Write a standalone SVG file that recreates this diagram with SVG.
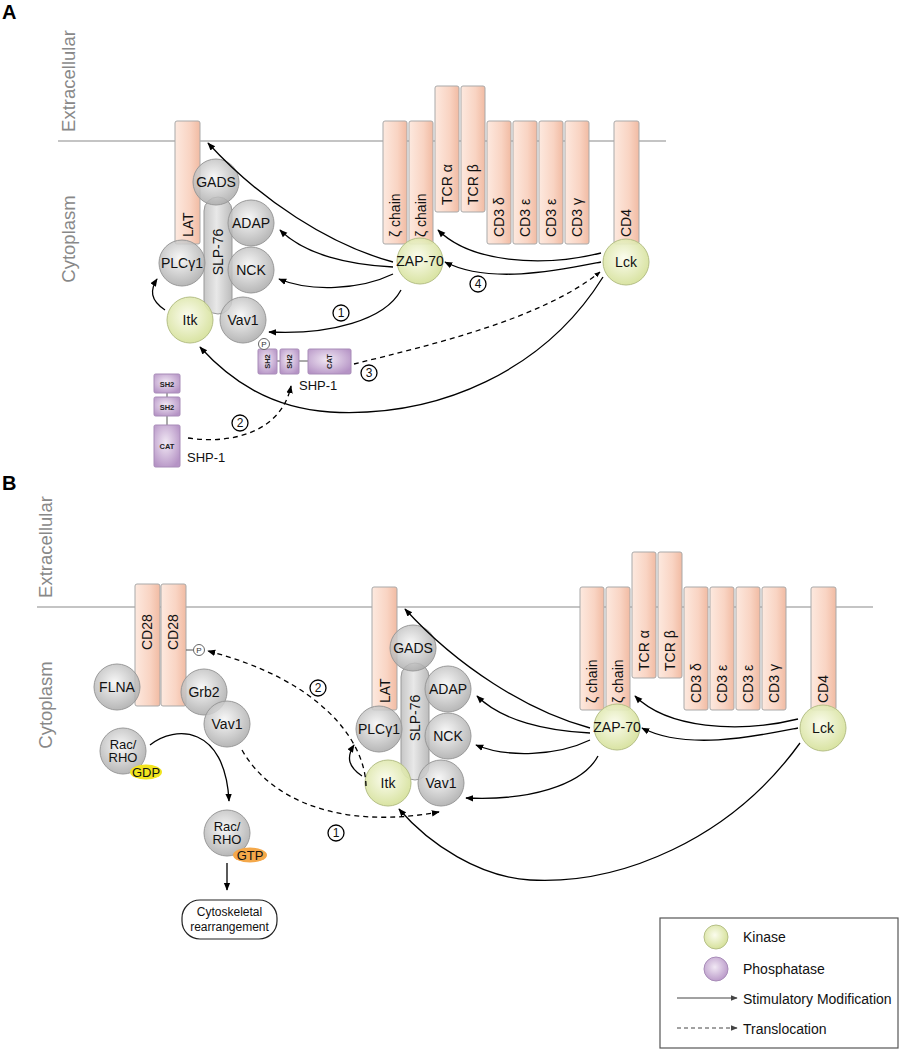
<svg xmlns="http://www.w3.org/2000/svg" width="900" height="1050" viewBox="0 0 900 1050">
<defs>
<linearGradient id="gSal" x1="0" y1="0" x2="1" y2="0">
<stop offset="0" stop-color="#fde9df"/><stop offset="0.6" stop-color="#f9d4c3"/><stop offset="1" stop-color="#f1bba3"/>
</linearGradient>
<radialGradient id="gGray" cx="0.45" cy="0.4" r="0.62">
<stop offset="0" stop-color="#f6f6f6"/><stop offset="1" stop-color="#a8a8a8"/>
</radialGradient>
<linearGradient id="gSlp" x1="0" y1="0" x2="1" y2="0">
<stop offset="0" stop-color="#bdbdbd"/><stop offset="0.45" stop-color="#e4e4e4"/><stop offset="1" stop-color="#b0b0b0"/>
</linearGradient>
<radialGradient id="gKin" cx="0.45" cy="0.42" r="0.62">
<stop offset="0" stop-color="#fbfced"/><stop offset="1" stop-color="#d3df95"/>
</radialGradient>
<radialGradient id="gPur" cx="0.45" cy="0.42" r="0.65">
<stop offset="0" stop-color="#f1e8f4"/><stop offset="1" stop-color="#b593c5"/>
</radialGradient>
<marker id="ah" viewBox="0 0 10 10" refX="9" refY="5" markerWidth="8" markerHeight="8" markerUnits="userSpaceOnUse" orient="auto">
<path d="M0,1 L10,5 L0,9 z" fill="#000"/>
</marker>
<marker id="ahs" viewBox="0 0 10 10" refX="9" refY="5" markerWidth="6" markerHeight="6" markerUnits="userSpaceOnUse" orient="auto">
<path d="M0,1 L10,5 L0,9 z" fill="#000"/>
</marker>
<marker id="ahg" viewBox="0 0 10 10" refX="9" refY="5" markerWidth="7" markerHeight="7" markerUnits="userSpaceOnUse" orient="auto">
<path d="M0,1 L10,5 L0,9 z" fill="#444"/>
</marker>
</defs>
<style>
text{font-family:"Liberation Sans",Arial,sans-serif;fill:#111}
.rec{fill:url(#gSal);stroke:#a9a9a9;stroke-width:1}
.gc{fill:url(#gGray);stroke:#999;stroke-width:1;fill-opacity:0.85}
.slp{fill:url(#gSlp);stroke:#999;stroke-width:1;fill-opacity:0.85}
.kc{fill:url(#gKin);stroke:#b5bf86;stroke-width:1;fill-opacity:0.92}
.pb{fill:url(#gPur);stroke:#a88cb8;stroke-width:1}
.mem{stroke:#8a8a8a;stroke-width:1.2}
.side{font-size:18.5px;fill:#888}
.lbl{font-size:14px;text-anchor:middle}
.lbl2{font-size:13px;text-anchor:middle}
.rt{font-size:14px;text-anchor:start}
.big{font-size:20px;font-weight:bold;fill:#000}
.sol{fill:none;stroke:#000;stroke-width:1.3;marker-end:url(#ah)}
.dsh{fill:none;stroke:#000;stroke-width:1.3;stroke-dasharray:5,4;marker-end:url(#ah)}
.num{fill:#fff;stroke:#000;stroke-width:1.3}
.nt{font-size:12px;text-anchor:middle}
.pc{fill:#fff;stroke:#555;stroke-width:0.9}
.pt{font-size:8px;text-anchor:middle;fill:#333}
.sh{font-size:7.5px;font-weight:bold;text-anchor:middle;fill:#222}
.leg{font-size:14px}
</style>

<!-- Panel labels and membranes -->
<g id="panelA-frame">
<text class="big" x="2" y="19">A</text>
<text class="side" text-anchor="middle" transform="translate(75,81) rotate(-90)">Extracellular</text>
<text class="side" text-anchor="middle" transform="translate(75,239) rotate(-90)">Cytoplasm</text>
<line class="mem" x1="58" y1="141" x2="666" y2="141"/>
</g>
<g id="panelB-frame">
<text class="big" x="2" y="490">B</text>
<text class="side" text-anchor="middle" transform="translate(52,547) rotate(-90)">Extracellular</text>
<text class="side" text-anchor="middle" transform="translate(52,705) rotate(-90)">Cytoplasm</text>
<line class="mem" x1="37" y1="607" x2="873" y2="607"/>
</g>

<!-- ===== Panel A nodes ===== -->
<g id="A-LAT"><rect class="rec" x="175" y="121" width="25" height="123" rx="2"/><text class="rt" transform="translate(193,237) rotate(-90)">LAT</text></g>
<g id="A-SLP76"><rect class="slp" x="204" y="197" width="28" height="117" rx="14"/><text class="lbl" transform="translate(223,252) rotate(-90)">SLP-76</text></g>
<g id="A-GADS"><circle class="gc" cx="216" cy="182" r="23"/><text class="lbl" x="216" y="187">GADS</text></g>
<g id="A-ADAP"><circle class="gc" cx="251" cy="223" r="23"/><text class="lbl" x="251" y="228">ADAP</text></g>
<g id="A-NCK"><circle class="gc" cx="251" cy="270" r="23"/><text class="lbl" x="251" y="275">NCK</text></g>
<g id="A-PLCg1"><circle class="gc" cx="182" cy="263" r="23"/><text class="lbl" x="182" y="268">PLCγ1</text></g>
<g id="A-Itk"><circle class="kc" cx="190" cy="320" r="23"/><text class="lbl" x="190" y="325">Itk</text></g>
<g id="A-Vav1"><circle class="gc" cx="243" cy="320" r="23"/><text class="lbl" x="243" y="325">Vav1</text></g>

<g id="A-zeta1"><rect class="rec" x="383" y="121" width="24" height="123" rx="2"/><text class="rt" transform="translate(400,237) rotate(-90)">ζ chain</text></g>
<g id="A-zeta2"><rect class="rec" x="409" y="121" width="24" height="123" rx="2"/><text class="rt" transform="translate(426,237) rotate(-90)">ζ chain</text></g>
<g id="A-TCRa"><rect class="rec" x="435" y="86" width="24" height="126" rx="2"/><text class="rt" transform="translate(452,205) rotate(-90)">TCR α</text></g>
<g id="A-TCRb"><rect class="rec" x="461" y="86" width="24" height="126" rx="2"/><text class="rt" transform="translate(478,205) rotate(-90)">TCR β</text></g>
<g id="A-CD3d"><rect class="rec" x="487" y="121" width="24" height="123" rx="2"/><text class="rt" transform="translate(504,237) rotate(-90)">CD3 δ</text></g>
<g id="A-CD3e1"><rect class="rec" x="513" y="121" width="24" height="123" rx="2"/><text class="rt" transform="translate(530,237) rotate(-90)">CD3 ε</text></g>
<g id="A-CD3e2"><rect class="rec" x="539" y="121" width="24" height="123" rx="2"/><text class="rt" transform="translate(556,237) rotate(-90)">CD3 ε</text></g>
<g id="A-CD3g"><rect class="rec" x="565" y="121" width="24" height="123" rx="2"/><text class="rt" transform="translate(582,237) rotate(-90)">CD3 γ</text></g>
<g id="A-CD4"><rect class="rec" x="614" y="121" width="25" height="123" rx="2"/><text class="rt" transform="translate(631,237) rotate(-90)">CD4</text></g>
<g id="A-ZAP70"><circle class="kc" cx="420" cy="261" r="23"/><text class="lbl" x="420" y="266">ZAP-70</text></g>
<g id="A-Lck"><circle class="kc" cx="626" cy="262" r="23"/><text class="lbl" x="626" y="267">Lck</text></g>

<g id="A-SHP1-bound">
<line x1="277" y1="361" x2="280" y2="361" stroke="#555" stroke-width="1"/>
<line x1="299" y1="361" x2="308" y2="361" stroke="#555" stroke-width="1"/>
<rect class="pb" x="258" y="349" width="19" height="25" rx="1.5"/>
<rect class="pb" x="280" y="349" width="19" height="25" rx="1.5"/>
<rect class="pb" x="308" y="349" width="43" height="25" rx="1.5"/>
<text class="sh" transform="translate(270,361.5) rotate(-90)">SH2</text>
<text class="sh" transform="translate(292,361.5) rotate(-90)">SH2</text>
<text class="sh" transform="translate(332,361.5) rotate(-90)">CAT</text>
<circle class="pc" cx="264" cy="344" r="5.5"/><text class="pt" x="264" y="347">P</text>
<text x="299" y="390" font-size="13">SHP-1</text>
</g>
<g id="A-SHP1-free">
<line x1="167" y1="393" x2="167" y2="397" stroke="#555" stroke-width="1"/>
<line x1="167" y1="416" x2="167" y2="425" stroke="#555" stroke-width="1"/>
<rect class="pb" x="154" y="374" width="26" height="19" rx="1.5"/>
<rect class="pb" x="154" y="397" width="26" height="19" rx="1.5"/>
<rect class="pb" x="154" y="425" width="26" height="42" rx="1.5"/>
<text class="sh" x="167" y="386.5">SH2</text>
<text class="sh" x="167" y="409.5">SH2</text>
<text class="sh" x="167" y="448.5">CAT</text>
<text x="187" y="462" font-size="13">SHP-1</text>
</g>

<!-- ===== Panel B nodes ===== -->
<g id="B-CD28a"><rect class="rec" x="135" y="584" width="25" height="122" rx="2"/><text class="rt" transform="translate(152,650) rotate(-90)">CD28</text></g>
<g id="B-CD28b"><rect class="rec" x="161" y="584" width="25" height="122" rx="2"/><text class="rt" transform="translate(178,650) rotate(-90)">CD28</text>
<line x1="186" y1="650" x2="193" y2="650" stroke="#555" stroke-width="1"/><circle class="pc" cx="199" cy="650" r="5.5"/><text class="pt" x="199" y="653">P</text></g>
<g id="B-FLNA"><circle class="gc" cx="117" cy="687" r="23"/><text class="lbl" x="117" y="692">FLNA</text></g>
<g id="B-Grb2"><circle class="gc" cx="204" cy="692" r="23"/><text class="lbl" x="204" y="697">Grb2</text></g>
<g id="B-Vav1-CD28"><circle class="gc" cx="227" cy="724" r="23"/><text class="lbl" x="227" y="729">Vav1</text></g>
<g id="B-RacGDP"><circle class="gc" cx="123" cy="751" r="23"/><text class="lbl2" x="123" y="749">Rac/</text><text class="lbl2" x="123" y="762">RHO</text>
<ellipse cx="146" cy="772" rx="16" ry="7.5" fill="#f2e41e"/><text x="146" y="777" font-size="13" text-anchor="middle">GDP</text></g>
<g id="B-RacGTP"><circle class="gc" cx="227" cy="833" r="23"/><text class="lbl2" x="227" y="831">Rac/</text><text class="lbl2" x="227" y="844">RHO</text>
<ellipse cx="250" cy="855" rx="17" ry="7.5" fill="#f4a84a"/><text x="250" y="860" font-size="13" text-anchor="middle">GTP</text></g>
<g id="B-Cyto"><rect x="182" y="900" width="95" height="39" rx="18" fill="#fff" stroke="#222" stroke-width="1.2"/>
<text x="229.5" y="916" font-size="12" text-anchor="middle">Cytoskeletal</text><text x="229.5" y="931" font-size="12" text-anchor="middle">rearrangement</text></g>

<g id="B-LAT"><rect class="rec" x="372" y="587" width="25" height="123" rx="2"/><text class="rt" transform="translate(390,703) rotate(-90)">LAT</text></g>
<g id="B-SLP76"><rect class="slp" x="401" y="663" width="28" height="117" rx="14"/><text class="lbl" transform="translate(420,718) rotate(-90)">SLP-76</text></g>
<g id="B-GADS"><circle class="gc" cx="413" cy="648" r="23"/><text class="lbl" x="413" y="653">GADS</text></g>
<g id="B-ADAP"><circle class="gc" cx="448" cy="689" r="23"/><text class="lbl" x="448" y="694">ADAP</text></g>
<g id="B-NCK"><circle class="gc" cx="448" cy="736" r="23"/><text class="lbl" x="448" y="741">NCK</text></g>
<g id="B-PLCg1"><circle class="gc" cx="379" cy="729" r="23"/><text class="lbl" x="379" y="734">PLCγ1</text></g>
<g id="B-Itk"><circle class="kc" cx="388" cy="783" r="23"/><text class="lbl" x="388" y="788">Itk</text></g>
<g id="B-Vav1"><circle class="gc" cx="441" cy="783" r="23"/><text class="lbl" x="441" y="788">Vav1</text></g>

<g id="B-zeta1"><rect class="rec" x="580" y="587" width="24" height="123" rx="2"/><text class="rt" transform="translate(597,703) rotate(-90)">ζ chain</text></g>
<g id="B-zeta2"><rect class="rec" x="606" y="587" width="24" height="123" rx="2"/><text class="rt" transform="translate(623,703) rotate(-90)">ζ chain</text></g>
<g id="B-TCRa"><rect class="rec" x="632" y="552" width="24" height="126" rx="2"/><text class="rt" transform="translate(649,671) rotate(-90)">TCR α</text></g>
<g id="B-TCRb"><rect class="rec" x="658" y="552" width="24" height="126" rx="2"/><text class="rt" transform="translate(675,671) rotate(-90)">TCR β</text></g>
<g id="B-CD3d"><rect class="rec" x="684" y="587" width="24" height="123" rx="2"/><text class="rt" transform="translate(701,703) rotate(-90)">CD3 δ</text></g>
<g id="B-CD3e1"><rect class="rec" x="710" y="587" width="24" height="123" rx="2"/><text class="rt" transform="translate(727,703) rotate(-90)">CD3 ε</text></g>
<g id="B-CD3e2"><rect class="rec" x="736" y="587" width="24" height="123" rx="2"/><text class="rt" transform="translate(753,703) rotate(-90)">CD3 ε</text></g>
<g id="B-CD3g"><rect class="rec" x="762" y="587" width="24" height="123" rx="2"/><text class="rt" transform="translate(779,703) rotate(-90)">CD3 γ</text></g>
<g id="B-CD4"><rect class="rec" x="811" y="587" width="25" height="123" rx="2"/><text class="rt" transform="translate(828,703) rotate(-90)">CD4</text></g>
<g id="B-ZAP70"><circle class="kc" cx="617" cy="727" r="23"/><text class="lbl" x="617" y="732">ZAP-70</text></g>
<g id="B-Lck"><circle class="kc" cx="823" cy="728" r="23"/><text class="lbl" x="823" y="733">Lck</text></g>

<!-- ===== Connectors ===== -->
<g id="connectors">
<!-- Panel A -->
<path class="sol" d="M393,262 C330,245 260,200 208,143"/>
<path class="sol" d="M393,267 C350,265 305,255 280,230"/>
<path class="sol" d="M393,274 C360,290 310,292 279,279"/>
<path class="sol" d="M401,290 C385,320 330,335 269,332"/>
<path class="sol" d="M165,310 C150,300 150,290 157,279"/>
<path class="sol" d="M601,253 C540,268 470,262 438,230"/>
<path class="sol" d="M601,262 C560,270 490,285 445,262"/>
<path class="sol" d="M603,277 C545,370 440,418 330,412 C270,408 230,380 200,347"/>
<path class="dsh" style="marker-end:url(#ahs)" d="M354,364 C430,345 540,320 600,272"/>
<path class="dsh" d="M188,438 C235,445 282,430 291,386"/>
<!-- Panel B -->
<path class="sol" d="M590,728 C527,711 457,666 405,609"/>
<path class="sol" d="M590,733 C547,731 502,721 477,696"/>
<path class="sol" d="M590,740 C557,756 507,758 476,745"/>
<path class="sol" d="M598,756 C582,786 527,801 466,798"/>
<path class="sol" d="M362,776 C347,766 347,756 354,745"/>
<path class="sol" d="M798,719 C737,734 667,728 635,696"/>
<path class="sol" d="M798,728 C757,736 687,751 642,728"/>
<path class="sol" d="M800,743 C730,840 620,885 530,880 C480,877 430,845 399,809"/>
<path class="dsh" d="M366,786 C365,740 320,680 208,651"/>
<path class="dsh" d="M242,750 C270,800 340,830 439,812"/>
<path class="sol" d="M150,745 C175,725 225,725 229,801"/>
<path class="sol" d="M227,863 L227,890"/>
</g>

<g id="step-labels">
<circle class="num" cx="341" cy="313" r="8"/><text class="nt" x="341" y="317">1</text>
<circle class="num" cx="240" cy="423" r="8"/><text class="nt" x="240" y="427">2</text>
<circle class="num" cx="369" cy="373" r="8"/><text class="nt" x="369" y="377">3</text>
<circle class="num" cx="478" cy="284" r="8"/><text class="nt" x="478" y="288">4</text>
<circle class="num" cx="318" cy="688" r="8"/><text class="nt" x="318" y="692">2</text>
<circle class="num" cx="336" cy="833" r="8"/><text class="nt" x="336" y="837">1</text>
</g>

<!-- Legend -->
<g id="legend">
<rect x="660" y="918" width="238" height="130" fill="#fff" stroke="#555" stroke-width="1.2"/>
<circle cx="716" cy="937" r="12" fill="url(#gKin)" stroke="#b5bf86"/>
<text class="leg" x="743" y="942">Kinase</text>
<circle cx="716" cy="969" r="12" fill="url(#gPur)" stroke="#a88cb8"/>
<text class="leg" x="743" y="974">Phosphatase</text>
<line x1="677" y1="998" x2="737" y2="998" stroke="#444" stroke-width="1" marker-end="url(#ahg)"/>
<text class="leg" x="743" y="1004">Stimulatory Modification</text>
<line x1="677" y1="1028" x2="737" y2="1028" stroke="#444" stroke-width="1" stroke-dasharray="4,3" marker-end="url(#ahg)"/>
<text class="leg" x="743" y="1034">Translocation</text>
</g>
</svg>
